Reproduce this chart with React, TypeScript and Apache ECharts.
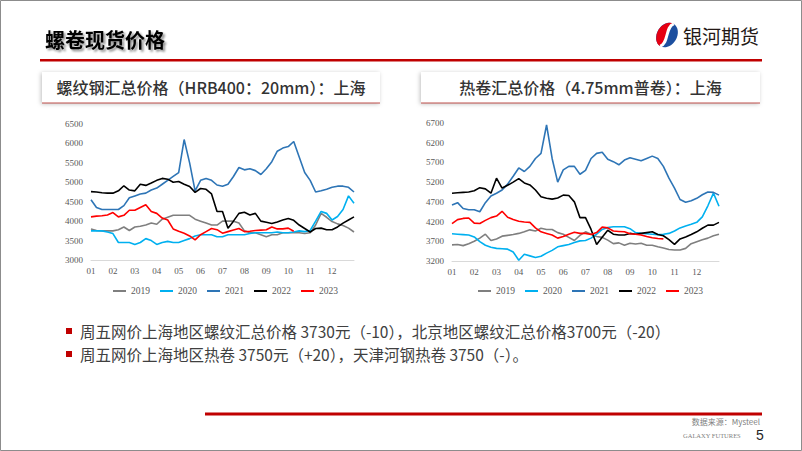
import React, { useEffect, useRef } from "react";
import * as echarts from "echarts";

const MONTHS = ["01", "02", "03", "04", "05", "06", "07", "08", "09", "10", "11", "12"];
const POINTS_PER_MONTH = [4, 4, 4, 4, 4, 4, 4, 4, 4, 4, 4, 5];
const YEARS = ["2019", "2020", "2021", "2022", "2023"];
const YEAR_COLORS = ["#7f7f7f", "#00b0f0", "#2e75b6", "#000000", "#ff0000"];

const REBAR_Y_TICKS = [3000, 3500, 4000, 4500, 5000, 5500, 6000, 6500];
const HRC_Y_TICKS = [3200, 3700, 4200, 4700, 5200, 5700, 6200, 6700];

const REBAR_2019 = [3800,3760,3750,3750,3750,3780,3850,3760,3850,3870,3900,3950,3920,4050,4100,4150,4150,4150,4150,4050,4000,3950,3900,3900,4000,4000,4000,3950,3750,3700,3700,3650,3600,3650,3650,3700,3700,3700,3700,3680,3700,3900,4200,4100,3990,3930,3890,3820,3720];
const REBAR_2020 = [3750,3750,3750,3720,3680,3450,3450,3450,3400,3450,3550,3500,3400,3450,3480,3450,3450,3500,3550,3620,3650,3650,3650,3600,3600,3650,3650,3650,3650,3680,3700,3700,3700,3700,3720,3700,3700,3720,3750,3730,3760,4000,4250,4200,4030,4120,4300,4650,4460];
const REBAR_2021 = [4550,4350,4300,4300,4300,4300,4400,4600,4650,4700,4720,4800,4850,4950,5050,5150,5250,6100,5500,4780,5050,5100,5050,4930,4900,4950,5150,5380,5320,5350,5300,5200,5350,5530,5800,5880,5920,6050,5650,5250,5050,4750,4780,4820,4870,4900,4900,4870,4750];
const REBAR_2022 = [4760,4750,4730,4720,4720,4780,4910,4800,4780,4950,4920,4980,5050,5100,5080,5000,5020,4950,4890,4740,4840,4820,4700,4250,4250,3820,4000,4200,4230,4160,4200,4000,3970,3940,3980,4030,4070,4020,3900,3810,3720,3810,3820,3780,3780,3850,3950,4030,4110];
const REBAR_2023 = [4110,4130,4140,4160,4220,4110,4150,4280,4280,4350,4420,4250,4200,4080,4030,3800,3740,3690,3620,3520,3650,3730,3810,3780,3690,3730,3770,3810,3730,3740,3760,3770,3780,3850,3800,3800,3820,3740];

const HRC_2019 = [3610,3620,3590,3640,3700,3780,3880,3720,3760,3830,3850,3870,3900,3940,3990,3960,4030,4000,4000,3920,3880,3800,3720,3850,3940,3880,3820,3800,3730,3640,3660,3600,3650,3630,3650,3600,3600,3560,3530,3490,3480,3480,3520,3640,3690,3740,3780,3840,3880];
const HRC_2020 = [3890,3880,3870,3860,3810,3690,3600,3550,3520,3510,3500,3430,3220,3370,3330,3290,3320,3400,3470,3560,3590,3620,3670,3710,3720,3780,3880,4000,4050,4070,4070,4070,4020,3920,3900,3890,3880,3870,3880,3900,3960,4040,4090,4130,4180,4320,4600,4920,4590];
const HRC_2021 = [4620,4680,4530,4500,4500,4450,4680,4850,4920,5000,5150,5350,5560,5470,5600,5800,5930,6650,5800,5200,5510,5600,5600,5400,5500,5800,5930,5960,5780,5720,5640,5760,5820,5780,5740,5800,5860,5800,5600,5300,5050,4760,4690,4730,4790,4880,4950,4940,4870];
const HRC_2022 = [4920,4930,4940,4950,4980,5060,5030,4920,5300,5050,5120,5200,5290,5180,5130,5000,4830,4790,4770,4800,4870,4860,4700,4300,4300,4000,3620,3800,3980,3880,3860,3860,3900,3880,3900,3920,3940,3870,3840,3740,3620,3760,3810,3870,3940,4030,4110,4110,4180];
const HRC_2023 = [4150,4250,4280,4290,4160,4150,4230,4300,4340,4460,4310,4250,4210,4190,4180,4040,3940,3900,3860,3780,3820,3880,3930,3900,3900,3870,3920,4060,4040,3960,3950,3940,3890,3880,3860,3820,3790,3770,3760];

const REBAR_SERIES = [REBAR_2019, REBAR_2020, REBAR_2021, REBAR_2022, REBAR_2023];
const HRC_SERIES = [HRC_2019, HRC_2020, HRC_2021, HRC_2022, HRC_2023];

const PAGE_TITLE = "螺卷现货价格";
const BRAND = "银河期货";
const LEFT_TITLE = "螺纹钢汇总价格（HRB400：20mm）：上海";
const RIGHT_TITLE = "热卷汇总价格（4.75mm普卷）：上海";
const BULLET_1 = "周五网价上海地区螺纹汇总价格 3730元（-10），北京地区螺纹汇总价格3700元（-20）";
const BULLET_2 = "周五网价上海地区热卷 3750元（+20），天津河钢热卷 3750（-）。";
const SOURCE = "数据来源：Mysteel";
const FOOTER_EN = "GALAXY FUTURES";
const PAGE_NO = "5";

const CATEGORIES: string[] = MONTHS.flatMap((m, i) =>
  Array.from({ length: POINTS_PER_MONTH[i] }, (_, w) => `${m}-${w + 1}`)
);

let shapesRegistered = false;
function registerShapes() {
  if (shapesRegistered) return;
  shapesRegistered = true;
  echarts.graphic.registerShape(
    "gxLogoRed",
    echarts.graphic.extendPath("M0,-13 A10,13 0 0 0 0,13 C6,6 -6,-6 0,-13 Z", {})
  );
}

const CJK = "'Noto Sans CJK SC', 'Noto Sans', sans-serif";
const SERIF = "'Liberation Serif', 'DejaVu Serif', serif";

function buildXAxis(gridIndex: number) {
  return {
    type: "category",
    gridIndex,
    data: CATEGORIES,
    boundaryGap: false,
    axisLine: { show: true, lineStyle: { color: "#d9d9d9", width: 1 } },
    axisTick: { show: false },
    splitLine: { show: false },
    axisLabel: {
      interval: (_i: number, v: string) => v.endsWith("-1"),
      formatter: (v: string) => v.slice(0, 2),
      fontFamily: SERIF,
      fontSize: 9,
      color: "#595959",
      margin: 6,
    },
  };
}

function buildYAxis(gridIndex: number, ticks: number[]) {
  return {
    type: "value",
    gridIndex,
    min: ticks[0],
    max: ticks[ticks.length - 1],
    interval: ticks[1] - ticks[0],
    axisLine: { show: false },
    axisTick: { show: false },
    splitLine: { show: false },
    axisLabel: {
      customValues: ticks,
      formatter: (v: number) => String(v),
      fontFamily: SERIF,
      fontSize: 9,
      color: "#595959",
      margin: 8,
    },
  };
}

function buildLegend(left: number) {
  return {
    left,
    top: 281,
    orient: "horizontal",
    icon: "rect",
    itemWidth: 13,
    itemHeight: 2,
    itemGap: 10,
    data: YEARS,
    textStyle: { fontFamily: SERIF, fontSize: 9.5, color: "#595959" },
  };
}

export default function App() {
  const ref = useRef<HTMLDivElement>(null);

  useEffect(() => {
    if (!ref.current) return;
    registerShapes();
    const chart = echarts.init(ref.current, null, { renderer: "svg", width: 802, height: 451 });

    const series: any[] = [];
    YEARS.forEach((y, i) => {
      series.push({
        name: y,
        type: "line",
        xAxisIndex: 0,
        yAxisIndex: 0,
        data: REBAR_SERIES[i],
        symbol: "none",
        smooth: false,
        lineStyle: { color: YEAR_COLORS[i], width: 1.6 },
        itemStyle: { color: YEAR_COLORS[i] },
      });
    });
    YEARS.forEach((y, i) => {
      series.push({
        name: y,
        type: "line",
        xAxisIndex: 1,
        yAxisIndex: 1,
        data: HRC_SERIES[i],
        symbol: "none",
        smooth: false,
        lineStyle: { color: YEAR_COLORS[i], width: 1.6 },
        itemStyle: { color: YEAR_COLORS[i] },
      });
    });

    const subtitleBox = (x: number, w: number, text: string) => [
      {
        type: "rect",
        shape: { x, y: 72, width: w, height: 31 },
        style: {
          fill: "#ffffff",
          shadowBlur: 4,
          shadowColor: "rgba(0,0,0,0.25)",
          shadowOffsetX: -1,
          shadowOffsetY: 1,
        },
      },
      {
        type: "line",
        shape: { x1: x, y1: 103, x2: x + w, y2: 103 },
        style: { stroke: "#c0504d", lineWidth: 1.2 },
      },
      {
        type: "text",
        x: x + w / 2,
        y: 87,
        style: {
          text,
          fontFamily: CJK,
          fontSize: 16,
          fontWeight: 500,
          fill: "#333333",
          textAlign: "center",
          textVerticalAlign: "middle",
          align: "center",
          verticalAlign: "middle",
        },
      },
    ];

    const graphic: any[] = [
      {
        type: "rect",
        shape: { x: 0.5, y: 0.5, width: 801, height: 450 },
        style: { fill: "none", stroke: "#8c8c8c", lineWidth: 1 },
      },
      {
        type: "text",
        x: 45,
        y: 39,
        style: {
          text: PAGE_TITLE,
          fontFamily: CJK,
          fontSize: 20,
          fontWeight: "bold",
          fill: "#000000",
          textVerticalAlign: "middle",
          verticalAlign: "middle",
          textShadowColor: "rgba(0,0,0,0.45)",
          textShadowBlur: 2,
          textShadowOffsetX: 2,
          textShadowOffsetY: 2,
        },
      },
      {
        type: "rect",
        shape: { x: 40, y: 59, width: 722, height: 2.5 },
        style: { fill: "#c00000" },
      },
      {
        type: "group",
        x: 667,
        y: 35,
        rotation: -0.55,
        children: [
          { type: "ellipse", shape: { cx: 0, cy: 0, rx: 10, ry: 13 }, style: { fill: "#1d4f9f" } },
          { type: "gxLogoRed", x: 0, y: 0, style: { fill: "#e60012" } },
          {
            type: "bezierCurve",
            shape: { x1: 0, y1: -13, cpx1: -6, cpy1: -6, cpx2: 6, cpy2: 6, x2: 0, y2: 13 },
            style: { stroke: "#ffffff", lineWidth: 3, fill: "none" },
          },
        ],
      },
      {
        type: "text",
        x: 683,
        y: 35,
        style: {
          text: BRAND,
          fontFamily: CJK,
          fontSize: 19,
          fill: "#231815",
          textVerticalAlign: "middle",
          verticalAlign: "middle",
        },
      },
      ...subtitleBox(42, 338, LEFT_TITLE),
      ...subtitleBox(421, 339, RIGHT_TITLE),
      { type: "rect", shape: { x: 66, y: 328, width: 6, height: 6 }, style: { fill: "#c00000" } },
      { type: "rect", shape: { x: 66, y: 351, width: 6, height: 6 }, style: { fill: "#c00000" } },
      {
        type: "text",
        x: 80,
        y: 331,
        style: {
          text: BULLET_1,
          fontFamily: CJK,
          fontSize: 15.5,
          fill: "#404040",
          textVerticalAlign: "middle",
          verticalAlign: "middle",
        },
      },
      {
        type: "text",
        x: 80,
        y: 354,
        style: {
          text: BULLET_2,
          fontFamily: CJK,
          fontSize: 15.5,
          fill: "#404040",
          textVerticalAlign: "middle",
          verticalAlign: "middle",
        },
      },
      {
        type: "rect",
        shape: { x: 205, y: 412.5, width: 557, height: 3 },
        style: { fill: "#c00000" },
      },
      {
        type: "text",
        x: 760,
        y: 421,
        style: {
          text: SOURCE,
          fontFamily: CJK,
          fontSize: 8,
          fill: "#7f7f7f",
          textAlign: "right",
          align: "right",
          textVerticalAlign: "middle",
          verticalAlign: "middle",
        },
      },
      {
        type: "text",
        x: 683,
        y: 435,
        style: {
          text: FOOTER_EN,
          fontFamily: SERIF,
          fontSize: 6.5,
          fill: "#7f7f7f",
          textVerticalAlign: "middle",
          verticalAlign: "middle",
        },
      },
      {
        type: "text",
        x: 756,
        y: 435,
        style: {
          text: PAGE_NO,
          fontFamily: "'Liberation Sans', Arial, sans-serif",
          fontSize: 14,
          fill: "#262626",
          textVerticalAlign: "middle",
          verticalAlign: "middle",
        },
      },
    ];

    chart.setOption({
      animation: false,
      backgroundColor: "#ffffff",
      grid: [
        { left: 91, top: 124, width: 263, height: 136, containLabel: false },
        { left: 452, top: 123, width: 267, height: 138, containLabel: false },
      ],
      xAxis: [buildXAxis(0), buildXAxis(1)],
      yAxis: [buildYAxis(0, REBAR_Y_TICKS), buildYAxis(1, HRC_Y_TICKS)],
      legend: [buildLegend(108), buildLegend(473)],
      series,
      graphic,
    });

    return () => {
      chart.dispose();
    };
  }, []);

  return (
    <div
      ref={ref}
      style={{ position: "fixed", left: 0, top: 0, width: 802, height: 451, background: "#fff" }}
    />
  );
}
